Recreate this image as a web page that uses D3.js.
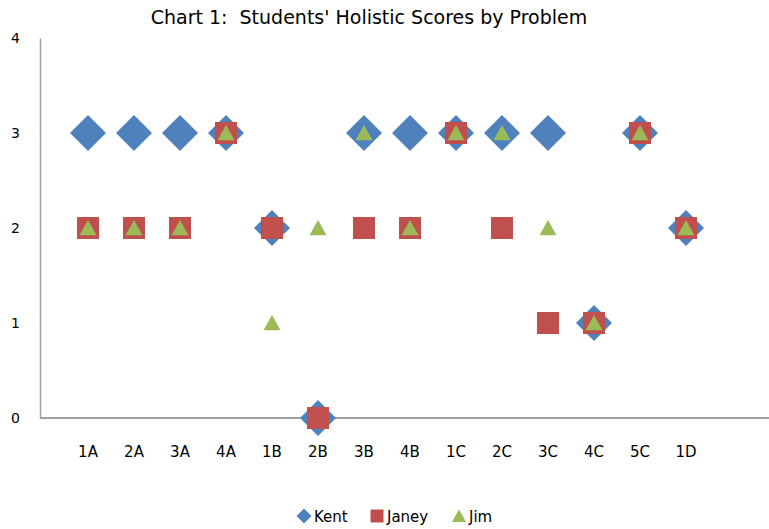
<!DOCTYPE html>
<html>
<head>
<meta charset="utf-8">
<script src="https://cdn.jsdelivr.net/npm/d3@7"></script>
<style>
  body { margin: 0; background: #fff; }
  svg { display: block; }
</style>
</head>
<body>
<svg id="chart" width="769" height="529"></svg>
<script>
// data
var problems = ["1A", "2A", "3A", "4A", "1B", "2B", "3B", "4B", "1C", "2C", "3C", "4C", "5C", "1D"];
var kent  = [3, 3, 3, 3, 2, 0, 3, 3, 3, 3, 3, 1, 3, 2];
var janey = [2, 2, 2, 3, 2, 0, 2, 2, 3, 2, 1, 1, 3, 2];
var jim   = [2, 2, 2, 3, 1, 2, 3, 2, 3, 3, 2, 1, 3, 2];
var yTicks = [0, 1, 2, 3, 4];

var series = [
    { name: "Kent", values: kent, color: "#4F81BD", shape: "diamond" },
    { name: "Janey", values: janey, color: "#C0504D", shape: "square" },
    { name: "Jim", values: jim, color: "#9BBB59", shape: "triangle" }
];

var svg = d3.select("#chart");

var x = d3.scaleLinear().domain([0, 16]).range([42, 778]);
var y = d3.scaleLinear().domain([0, 4]).range([418, 38]);

function shapePath(shape, s) {
    if (shape == "diamond") {
        return "M0," + (-s) + "L" + s + ",0L0," + s + "L" + (-s) + ",0Z";
    } else if (shape == "square") {
        return "M" + (-s) + "," + (-s) + "H" + s + "V" + s + "H" + (-s) + "Z";
    } else {
        return "M0," + (-s * 0.95) + "L" + s + "," + (s * 0.85) + "L" + (-s) + "," + (s * 0.85) + "Z";
    }
}
var markerSize = { diamond: 18, square: 11, triangle: 8.5 };
var legendSize = { diamond: 7.5, square: 6.5, triangle: 7 };

// title
svg.append("text")
    .attr("x", 369)
    .attr("y", 24)
    .attr("text-anchor", "middle")
    .style("white-space", "pre")
    .style("font-family", "'DejaVu Sans', sans-serif")
    .style("font-size", "19px")
    .attr("fill", "#000")
    .text("Chart 1:  Students' Holistic Scores by Problem");

// y axis
var yAxis = d3.axisLeft(y).tickValues(yTicks).tickSize(0).tickPadding(20).tickFormat(d3.format("d"));
var gy = svg.append("g").attr("transform", "translate(40,0)").call(yAxis);
gy.select(".domain").attr("stroke", "#a0a0a0").attr("stroke-width", 1.5);
gy.selectAll("text")
    .style("font-family", "'DejaVu Sans', sans-serif")
    .style("font-size", "14px")
    .attr("fill", "#000");

// x axis
svg.append("line")
    .attr("x1", 40).attr("x2", 769)
    .attr("y1", y(0)).attr("y2", y(0))
    .attr("stroke", "#a0a0a0")
    .attr("stroke-width", 2);

svg.selectAll(".xlab")
    .data(problems)
    .enter()
    .append("text")
    .attr("class", "xlab")
    .attr("x", function(d, i) { return x(i + 1); })
    .attr("y", 457)
    .attr("text-anchor", "middle")
    .style("font-family", "'DejaVu Sans', sans-serif")
    .style("font-size", "15px")
    .attr("fill", "#000")
    .text(function(d) { return d; });

// markers
series.forEach(function(s) {
    svg.append("g").selectAll("path")
        .data(s.values)
        .enter()
        .append("path")
        .attr("transform", function(d, i) { return "translate(" + x(i + 1) + "," + y(d) + ")"; })
        .attr("d", shapePath(s.shape, markerSize[s.shape]))
        .attr("fill", s.color);
});

// legend
var legendX = [304, 377, 459];
var leg = svg.append("g").selectAll("g")
    .data(series)
    .enter()
    .append("g")
    .attr("transform", function(d, i) { return "translate(" + legendX[i] + ",516)"; });
leg.append("path")
    .attr("d", function(d) { return shapePath(d.shape, legendSize[d.shape]); })
    .attr("fill", function(d) { return d.color; });
leg.append("text")
    .attr("x", 10)
    .attr("y", 6)
    .style("font-family", "'DejaVu Sans', sans-serif")
    .style("font-size", "15px")
    .attr("fill", "#000")
    .text(function(d) { return d.name; });
</script>
</body>
</html>
